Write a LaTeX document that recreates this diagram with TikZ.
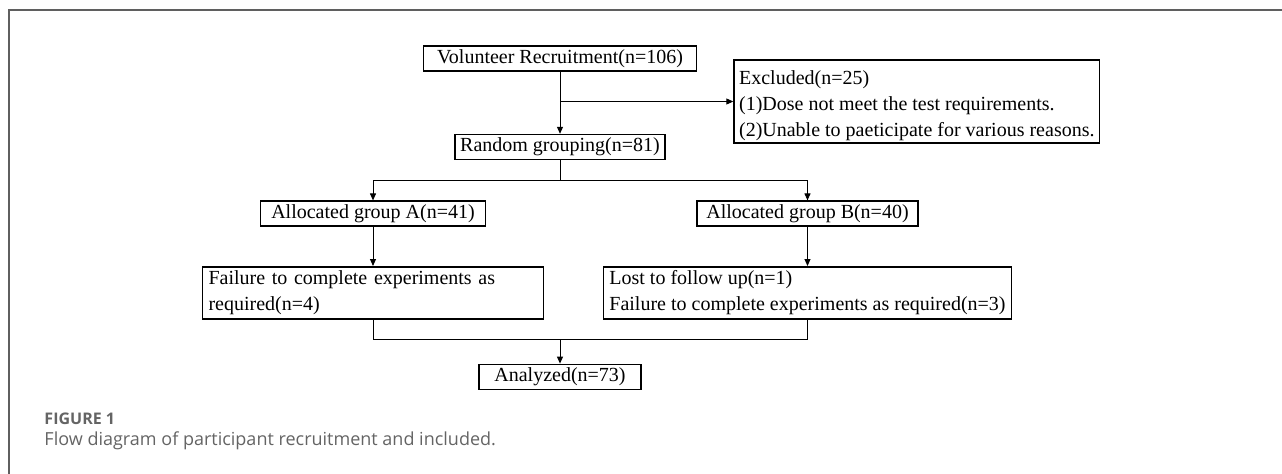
\documentclass[tikz,border=0pt]{standalone}
\usepackage{fontspec}
\setmainfont{Liberation Serif}
\newfontfamily\capfont{Open Sans}
\usepackage{tikz}
\usetikzlibrary{arrows.meta,positioning}
\usepackage{xcolor}
\definecolor{framegray}{RGB}{95,95,95}
\definecolor{capgray}{RGB}{100,100,100}

\begin{document}
\begin{tikzpicture}[>={Triangle[length=3.5pt,width=3pt]},line width=.5pt,font=\fontsize{10}{13}\selectfont]
\tikzstyle{n}=[draw,line width=.8pt,inner sep=0pt,minimum height=12.5pt,align=center]
\tikzstyle{nl}=[draw,line width=.8pt,inner xsep=3pt,inner ysep=1.5pt,align=left]
\tikzstyle{captxt}=[anchor=base west,inner sep=0pt,text=capgray]
\useasboundingbox (0,0) rectangle (641pt,-236.5pt);
\draw[framegray,line width=.75pt] (650pt,-5pt) -- (4.5pt,-5pt) -- (4.5pt,-245pt);
\node[n,minimum width=136.5pt] (vol) at (280pt,-29.25pt) {Volunteer Recruitment(n=106)};
\node[nl,below right=7pt and 18pt of vol.north east,inner xsep=2.5pt,inner ysep=1pt,minimum height=41.5pt] (exc) {\rule{0pt}{11pt}Excluded(n=25)\\(1)Dose not meet the test requirements.\\(2)Unable to paeticipate for various reasons.};
\node[n,below=31pt of vol,minimum width=105pt] (rnd) {Random grouping(n=81)};
\node[n,below=20pt of rnd,xshift=-93.5pt,minimum width=112.5pt] (grpA) {Allocated group A(n=41)};
\node[n,below=20pt of rnd,xshift=123.75pt,minimum width=110.5pt] (grpB) {Allocated group B(n=40)};
\node[nl,below=19.5pt of grpA,text width=164.5pt,minimum height=26pt] (failA) {Failure to complete experiments as\\required(n=4)};
\node[nl,below=19.5pt of grpB,minimum height=26pt] (failB) {Lost to follow up(n=1)\\Failure to complete experiments as required(n=3)};
\coordinate[below=10pt of rnd] (split);
\coordinate[below=10pt of failA] (merge);
\coordinate (mid) at (merge -| rnd);
\node[n,below=12pt of mid,minimum width=81pt] (ana) {Analyzed(n=73)};
\node[captxt,font=\capfont\bfseries\fontsize{8}{10}\selectfont] (fig) at (22pt,-212pt) {FIGURE 1};
\node[captxt,font=\capfont\fontsize{9}{11}\selectfont] (caption) at (22pt,-222.5pt) {Flow diagram of participant recruitment and included.};
\draw[->] (vol) -- (rnd);
\draw[->] (vol |- exc.west) -- (exc.west);
\draw (rnd) -- (split);
\draw[->] (split) -| (grpA);\draw[->] (split) -| (grpB);
\draw[->] (grpA) -- (failA);\draw[->] (grpB) -- (failB);
\draw (failA) -- (merge) -| (failB);
\draw[->] (mid) -- (ana);
\end{tikzpicture}
\end{document}
